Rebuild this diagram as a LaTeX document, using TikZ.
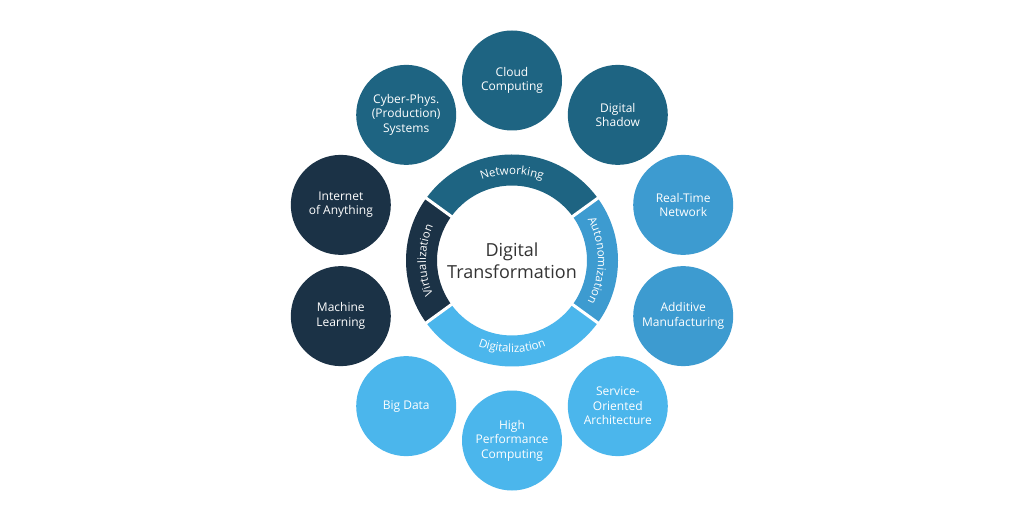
\documentclass[tikz,border=0pt]{standalone}
\usepackage{fontspec}
\setmainfont{Open Sans}
\usetikzlibrary{decorations.text}
\definecolor{cteal}{HTML}{1E6482}
\definecolor{cnavy}{HTML}{1B3246}
\definecolor{cmid}{HTML}{3D9BD0}
\definecolor{clight}{HTML}{4BB6EC}
\definecolor{ctext}{HTML}{333333}
\newcommand{\bandfont}{\fontsize{11.5}{13}\selectfont}
\begin{document}
\begin{tikzpicture}[x=1pt,y=1pt,
  bubble/.style={circle, minimum size=100pt, inner sep=0pt, align=center, text=white, font=\fontsize{12}{14.5}\selectfont},
  gapline/.style={white, line width=3pt},
  bandlabel/.style={decorate, decoration={text along path, text align=center, text color=white}},
  centertext/.style={align=center, text=ctext, font=\fontsize{18}{22}\selectfont}
]
\useasboundingbox[fill=white] (0,0) rectangle (1024,522);
\coordinate (C) at (512,261.5);

% ring segments
\fill[cteal] ([shift={(36:106)}]C) arc[start angle=36,end angle=144,radius=106] -- ([shift={(144:75)}]C) arc[start angle=144,end angle=36,radius=75] -- cycle;
\fill[cnavy] ([shift={(144:106)}]C) arc[start angle=144,end angle=216,radius=106] -- ([shift={(216:75)}]C) arc[start angle=216,end angle=144,radius=75] -- cycle;
\fill[clight] ([shift={(216:106)}]C) arc[start angle=216,end angle=324,radius=106] -- ([shift={(324:75)}]C) arc[start angle=324,end angle=216,radius=75] -- cycle;
\fill[cmid] ([shift={(-36:106)}]C) arc[start angle=-36,end angle=36,radius=106] -- ([shift={(36:75)}]C) arc[start angle=36,end angle=-36,radius=75] -- cycle;
\foreach \a in {36,144,216,324}
  \draw[gapline] ([shift={(\a:73)}]C) -- ([shift={(\a:108)}]C);

% band labels
\path[bandlabel, decoration={text={|\bandfont|Networking}}] ([shift={(144:86)}]C) arc[start angle=144,end angle=36,radius=86];
\path[bandlabel, decoration={text={|\bandfont|Autonomization}}] ([shift={(36:86)}]C) arc[start angle=36,end angle=-36,radius=86];
\path[bandlabel, decoration={text={|\bandfont|Digitalization}}] ([shift={(216:92)}]C) arc[start angle=216,end angle=324,radius=92];
\path[bandlabel, decoration={text={|\bandfont|Virtualization}}] ([shift={(216:86)}]C) arc[start angle=216,end angle=144,radius=86];

\node[centertext] (dt) at (C) {Digital\\Transformation};

% bubbles
\node[bubble, fill=cteal] (cloud) at ([shift={(90:180)}]C) {Cloud\\Computing};
\node[bubble, fill=cteal] (shadow) at ([shift={(54:180)}]C) {Digital\\Shadow};
\node[bubble, fill=cmid] (rtn) at ([shift={(18:180)}]C) {Real-Time\\Network};
\node[bubble, fill=cmid] (addman) at ([shift={(-18:180)}]C) {Additive\\Manufacturing};
\node[bubble, fill=clight] (soa) at ([shift={(-54:180)}]C) {Service-\\Oriented\\Architecture};
\node[bubble, fill=clight] (hpc) at ([shift={(-90:180)}]C) {High\\Performance\\Computing};
\node[bubble, fill=clight] (bigdata) at ([shift={(-126:180)}]C) {Big Data};
\node[bubble, fill=cnavy] (ml) at ([shift={(-162:180)}]C) {Machine\\Learning};
\node[bubble, fill=cnavy] (ioa) at ([shift={(162:180)}]C) {Internet\\of Anything};
\node[bubble, fill=cteal] (cps) at ([shift={(126:180)}]C) {Cyber-Phys.\\(Production)\\Systems};
\end{tikzpicture}
\end{document}
